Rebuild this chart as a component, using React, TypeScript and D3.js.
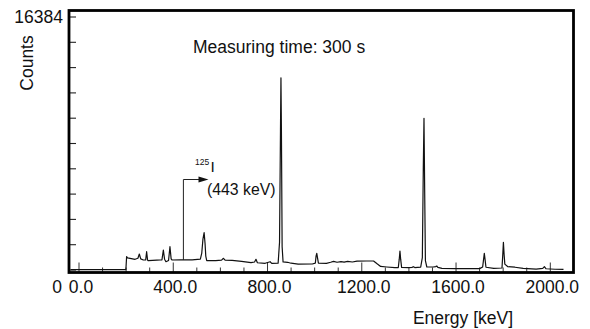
import React from "react";
import * as d3 from "d3";

// Spectrum: energy (keV) and counts
const spectrumEnergy: number[] = [
  -35, 199, 202, 206, 238, 250, 256, 262, 273, 283, 287, 291, 294, 330, 344, 352, 358, 363, 369, 380,
  386, 391, 395, 430, 443, 480, 515, 521, 526, 531, 535, 538, 542, 580, 605, 613, 620, 650, 690, 730,
  745, 751, 757, 790, 811, 818, 845, 851, 855, 857, 859, 862, 866, 885, 900, 930, 990, 1003, 1006, 1009,
  1012, 1016, 1050, 1068, 1080, 1095, 1112, 1125, 1140, 1160, 1180, 1220, 1250, 1265, 1280, 1306, 1340, 1355, 1359, 1362,
  1365, 1369, 1400, 1413, 1419, 1425, 1450, 1457, 1461, 1464, 1467, 1470, 1476, 1505, 1514, 1518, 1523, 1540, 1600, 1700,
  1713, 1717, 1720, 1723, 1727, 1760, 1795, 1798, 1801, 1804, 1807, 1820, 1850, 1885, 1940, 1968, 1975, 1982, 2020, 2056,
];
const spectrumCounts: number[] = [
  30, 30, 860, 780, 693, 760, 1036, 720, 648, 660, 1185, 640, 602, 640, 648, 660, 1295, 700, 537, 620,
  1509, 720, 648, 650, 650, 660, 700, 1100, 2000, 2415, 1700, 900, 602, 610, 640, 758, 640, 620, 560, 480,
  520, 693, 470, 434, 537, 430, 440, 1800, 9000, 12450, 9000, 1500, 520, 500, 440, 380, 390, 450, 900, 1081,
  800, 450, 434, 500, 560, 500, 540, 510, 560, 520, 580, 583, 583, 400, 230, 194, 150, 160, 700, 1230,
  700, 170, 150, 170, 214, 160, 180, 800, 6500, 9824, 5000, 600, 194, 200, 220, 259, 170, 110, 90, 90,
  200, 700, 1081, 700, 180, 110, 130, 900, 1794, 1000, 380, 214, 180, 110, 60, 100, 214, 80, 50, 40,
];

const xTickValues: number[] = d3.range(0, 2001, 100);
const xLabelValues: number[] = [0, 400, 800, 1200, 1600, 2000];
const yTickValues: number[] = d3.range(0, 11).map((i) => i * 1638.4);
const yMaxLabel = "16384";
const yMinLabel = "0";
const xTitle = "Energy [keV]";
const yTitle = "Counts";
const noteText = "Measuring time: 300 s";
const isotopeMass = "125";
const isotopeSymbol = "I";
const isotopeEnergy = "(443 keV)";
const markerEnergy = 443;

const W = 590;
const H = 329;
const FONT = "'Liberation Sans', Arial, Helvetica, sans-serif";

export default function App() {
  const x = d3.scaleLinear().domain([0, 2000]).range([79, 550.3]);
  const y = d3.scaleLinear().domain([0, 16384]).range([270, 17]);

  const pts: [number, number][] = spectrumEnergy.map((e, i) => [e, spectrumCounts[i]]);
  const line = d3
    .line<[number, number]>()
    .x((d) => x(d[0]))
    .y((d) => y(d[1]))(pts) as string;

  const frame = { l: 69, t: 10.5, r: 573.5, b: 272.5 };
  const mx = x(markerEnergy);
  const arrowY = 179.5;
  const arrowTip = 208.5;

  return (
    <svg
      width={W}
      height={H}
      style={{ position: "absolute", left: 0, top: 0, background: "#fff" }}
      fontFamily={FONT}
    >
      <rect x={0} y={0} width={W} height={H} fill="#fff" />
      {/* y ticks */}
      {yTickValues.map((v, i) => (
        <line key={"yt" + i} x1={frame.l} x2={frame.l + 7} y1={y(v)} y2={y(v)} stroke="#222" strokeWidth={1.1} />
      ))}
      {/* x ticks */}
      {xTickValues.map((v) => {
        const major = v % 400 === 0;
        return (
          <line
            key={"xt" + v}
            x1={x(v)}
            x2={x(v)}
            y1={frame.b}
            y2={frame.b - (major ? 10 : 5)}
            stroke="#333"
            strokeWidth={1}
          />
        );
      })}
      {/* spectrum */}
      <path d={line} fill="none" stroke="#111" strokeWidth={1.2} strokeLinejoin="round" />
      {/* marker arrow */}
      <line x1={mx} x2={mx} y1={y(650)} y2={arrowY} stroke="#222" strokeWidth={1} />
      <line x1={mx} x2={arrowTip - 6} y1={arrowY} y2={arrowY} stroke="#222" strokeWidth={1} />
      <path d={`M${arrowTip},${arrowY} L${arrowTip - 10},${arrowY - 3} L${arrowTip - 10},${arrowY + 3} Z`} fill="#111" />
      {/* frame */}
      <rect
        x={frame.l}
        y={frame.t}
        width={frame.r - frame.l}
        height={frame.b - frame.t}
        fill="none"
        stroke="#000"
        strokeWidth={2.8}
      />
      {/* annotations */}
      <text x={195} y={165} fontSize={8.5} fill="#111">{isotopeMass}</text>
      <text x={210.5} y={172} fontSize={15.5} fill="#111">{isotopeSymbol}</text>
      <text x={207} y={195} fontSize={15.8} fill="#111">{isotopeEnergy}</text>
      <text x={193} y={53} fontSize={17.5} fill="#111">{noteText}</text>
      {/* y labels */}
      <text x={63} y={23} fontSize={17.5} textAnchor="end" fill="#111">{yMaxLabel}</text>
      <text x={62} y={293} fontSize={17.5} textAnchor="end" fill="#111">{yMinLabel}</text>
      <text
        transform={`translate(33,63) rotate(-90)`}
        fontSize={17.5}
        textAnchor="middle"
        fill="#111"
      >
        {yTitle}
      </text>
      {/* x labels */}
      {xLabelValues.map((v) => (
        <text key={"xl" + v} x={x(v) + 2} y={293} fontSize={17.5} textAnchor="middle" fill="#111">
          {d3.format(".1f")(v)}
        </text>
      ))}
      <text x={463} y={324} fontSize={17.5} textAnchor="middle" fill="#111">{xTitle}</text>
    </svg>
  );
}
